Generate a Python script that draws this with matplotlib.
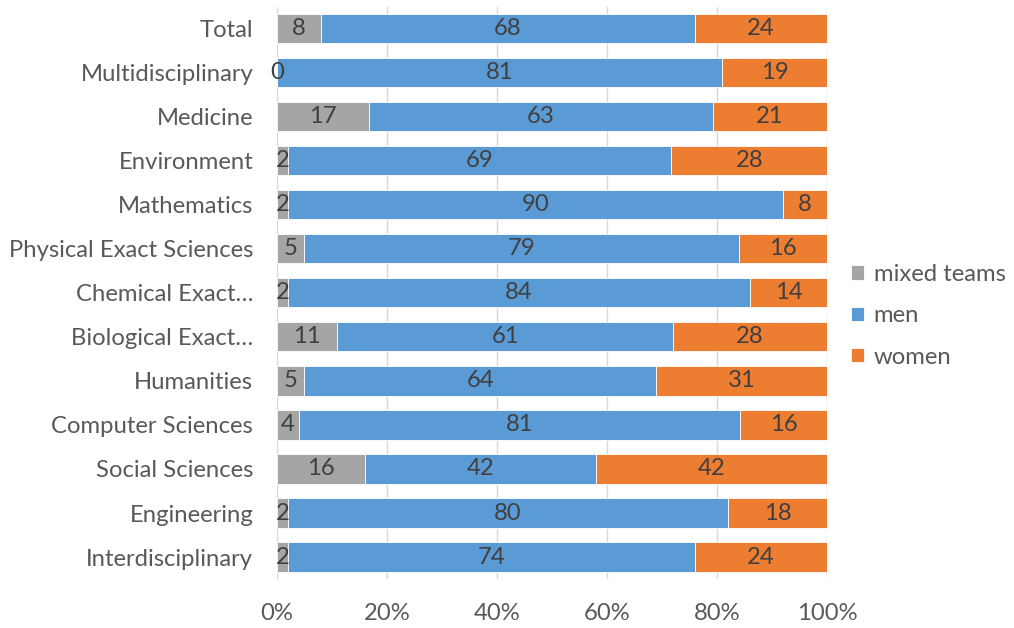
import numpy as np
import matplotlib.pyplot as plt

plt.rcParams['font.family'] = ['Lato', 'DejaVu Sans']

fields = ['Total', 'Multidisciplinary', 'Medicine', 'Environment', 'Mathematics',
          'Physical Exact Sciences', 'Chemical Exact\u2026', 'Biological Exact\u2026',
          'Humanities', 'Computer Sciences', 'Social Sciences', 'Engineering',
          'Interdisciplinary']
mixed = [8, 0, 17, 2, 2, 5, 2, 11, 5, 4, 16, 2, 2]
men = [68, 81, 63, 69, 90, 79, 84, 61, 64, 81, 42, 80, 74]
women = [24, 19, 21, 28, 8, 16, 14, 28, 31, 16, 42, 18, 24]

series = [('mixed teams', mixed, '#A5A5A5'),
          ('men', men, '#5B9BD5'),
          ('women', women, '#ED7D31')]

# 100% stacked: each row is scaled by its own total
totals = np.array(mixed) + np.array(men) + np.array(women)
y = np.arange(len(fields))[::-1]

fs = 17.2
fig = plt.figure(figsize=(10.14, 6.28), dpi=100)
ax = fig.add_axes([0.273, 0.078, 0.5426, 0.911])

left = np.zeros(len(fields))
for name, vals, col in series:
    share = np.array(vals) / totals
    bars = ax.barh(y, share, left=left, height=0.66, color=col, label=name,
                   edgecolor='white', linewidth=0.6, zorder=3)
    for b, v, l, w in zip(bars, vals, left, share):
        ax.text(l + w / 2, b.get_y() + b.get_height() / 2, str(v),
                ha='center', va='center', fontsize=fs, color='#404040', zorder=4)
    left += share

ax.set_xlim(0, 1)
ax.set_ylim(-0.5, len(fields) - 0.5)
ax.set_yticks(y)
ax.set_yticklabels(fields, fontsize=fs, color='#595959')
ax.set_xticks(np.linspace(0, 1, 6))
ax.set_xticklabels([f'{p}%' for p in range(0, 101, 20)], fontsize=fs, color='#595959')
ax.tick_params(length=0)
ax.tick_params(axis='y', pad=17)
ax.tick_params(axis='x', pad=17)
ax.xaxis.grid(True, color='#D9D9D9', linewidth=1, zorder=0)
for s in ax.spines.values():
    s.set_visible(False)

fig.legend(loc='center left', bbox_to_anchor=(0.818, 0.497), frameon=False,
           fontsize=fs, labelcolor='#595959', handlelength=0.55, handleheight=0.55,
           handletextpad=0.4, labelspacing=0.85)

fig.savefig('out.png', dpi=100)
